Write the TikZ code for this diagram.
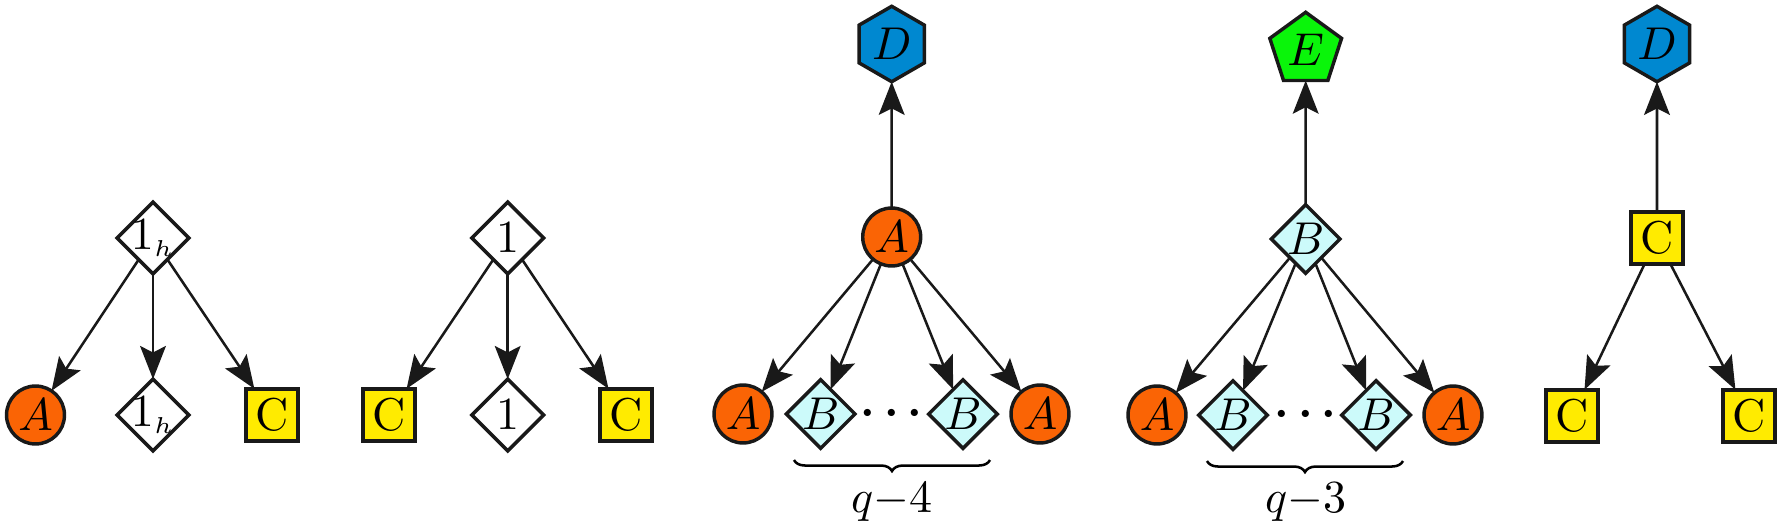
\documentclass[tikz,border=0pt]{standalone}
\usetikzlibrary{arrows.meta,shapes.geometric,decorations.pathreplacing}

\definecolor{aorange}{RGB}{250,100,5}
\definecolor{dblue}{RGB}{0,136,208}
\definecolor{egreen}{RGB}{10,245,10}
\definecolor{bcyan}{RGB}{204,250,250}
\definecolor{cyellow}{RGB}{255,235,0}

\tikzset{
  base/.style={draw=black!90, line width=0.75pt, inner sep=0pt, outer sep=0pt},
  anode/.style={base, circle, fill=aorange, minimum size=12.6pt},
  bnode/.style={base, diamond, aspect=1, fill=bcyan, minimum size=14.6pt},
  onenode/.style={base, diamond, aspect=1, fill=white, minimum size=15.6pt},
  onehnode/.style={onenode, inner sep=-1.5pt},
  cnode/.style={base, rectangle, fill=cyellow, minimum size=11.4pt},
  dnode/.style={base, regular polygon, regular polygon sides=6, shape border rotate=30, fill=dblue, minimum size=16.4pt},
  enode/.style={base, regular polygon, regular polygon sides=5, fill=egreen, minimum size=16.4pt},
  dotsnode/.style={inner sep=0pt, font=\boldmath},
  edge/.style={draw=black!90, line width=0.55pt, -{Stealth[length=7.2pt,width=5.6pt,inset=1.4pt]}},
  brc/.style={decorate, decoration={brace, mirror, amplitude=2.4pt}, line width=0.55pt},
}

\begin{document}
\begin{tikzpicture}[x=0.2174pt, y=-0.2174pt]
\useasboundingbox (0,0) rectangle (1781,526);

% first tree: 1_h
\node[onehnode] (t1) at (153,238) {$1_{\scriptscriptstyle h}$};
\node[anode] (a1) at (35.5,415) {$A$};
\node[onehnode] (o1) at (153,415) {$1_{\scriptscriptstyle h}$};
\node[cnode] (c1) at (272,415) {C};
\draw[edge] (t1) -- (a1);
\draw[edge] (t1) -- (o1);
\draw[edge] (t1) -- (c1);

% second tree: 1
\node[onenode] (t2) at (507.7,238) {$1$};
\node[cnode] (c2l) at (389,415) {C};
\node[onenode] (o2) at (507.7,415) {$1$};
\node[cnode] (c2r) at (626,415) {C};
\draw[edge] (t2) -- (c2l);
\draw[edge] (t2) -- (o2);
\draw[edge] (t2) -- (c2r);

% third tree: A with parent D
\node[dnode] (d3) at (891.7,44) {$D$};
\node[anode] (a3) at (891.7,237) {$A$};
\node[anode] (a3l) at (743,414) {$A$};
\node[bnode] (b3l) at (820.7,414) {$B$};
\node[dotsnode] (dots3) at (891.7,414) {$\cdots$};
\node[bnode] (b3r) at (963,414) {$B$};
\node[anode] (a3r) at (1040,414) {$A$};
\draw[edge] (a3) -- (d3);
\draw[edge] (a3) -- (a3l);
\draw[edge] (a3) -- (b3l);
\draw[edge] (a3) -- (b3r);
\draw[edge] (a3) -- (a3r);
\coordinate (br3l) at (794,460);
\coordinate (br3r) at (990,460);
\draw[brc] (br3l) -- (br3r);
\node (q3) at (891.7,502) {$q{-}4$};

% fourth tree: B with parent E
\node[enode] (e4) at (1305.7,50) {$E$};
\node[bnode] (b4) at (1305.7,239) {$B$};
\node[anode] (a4l) at (1157,415) {$A$};
\node[bnode] (b4l) at (1233,415) {$B$};
\node[dotsnode] (dots4) at (1305.7,415) {$\cdots$};
\node[bnode] (b4r) at (1376,415) {$B$};
\node[anode] (a4r) at (1453,415) {$A$};
\draw[edge] (b4) -- (e4);
\draw[edge] (b4) -- (a4l);
\draw[edge] (b4) -- (b4l);
\draw[edge] (b4) -- (b4r);
\draw[edge] (b4) -- (a4r);
\coordinate (br4l) at (1207,461);
\coordinate (br4r) at (1403,461);
\draw[brc] (br4l) -- (br4r);
\node (q4) at (1305.7,502) {$q{-}3$};

% fifth tree: C with parent D
\node[dnode] (d5) at (1657,44) {$D$};
\node[cnode] (c5) at (1657,238) {C};
\node[cnode] (c5l) at (1572,416) {C};
\node[cnode] (c5r) at (1749,416) {C};
\draw[edge] (c5) -- (d5);
\draw[edge] (c5) -- (c5l);
\draw[edge] (c5) -- (c5r);
\end{tikzpicture}
\end{document}
